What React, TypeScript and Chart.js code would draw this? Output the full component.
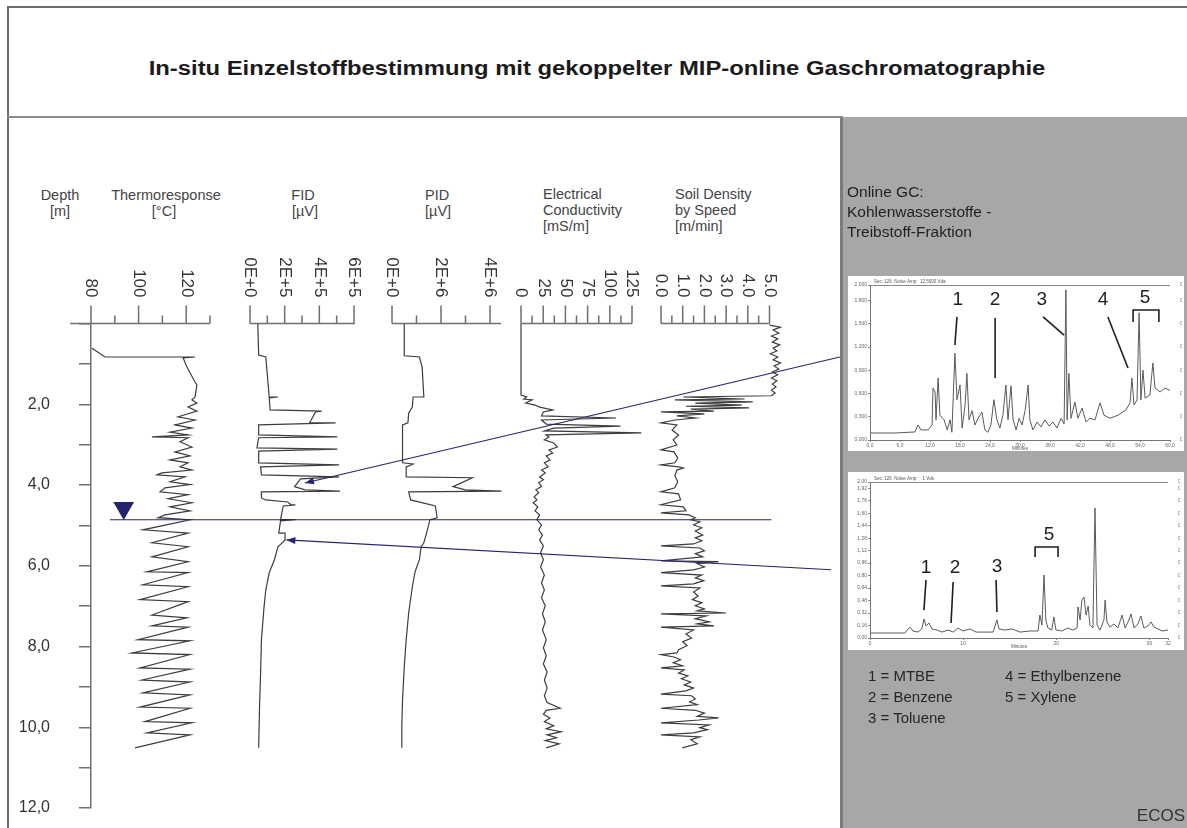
import React, { useEffect, useRef } from 'react';
import { Chart, registerables } from 'chart.js';
Chart.register(...registerables);

const FONT = '"Liberation Sans", Arial, Helvetica, sans-serif';
const INK = '#333333';
const TRACE = '#3d3d3d';
const AXIS = '#6f6f6f';
const NAVY = '#25256f';

// ---------------- data (depth [m], value) ----------------
const THERMO_PROFILE: number[][] = [
  [0.61, 80.4], [0.83, 85.9], [0.83, 123.7], [0.85, 118.7], [1.08, 120.3], [1.45, 123.7], [1.52, 124.5],
  [1.82, 123.7], [1.89, 122.4], [1.97, 124.5], [2.07, 120.8], [2.17, 124.5], [2.31, 116.6], [2.39, 123.7],
  [2.51, 115.3], [2.59, 122.4], [2.69, 113.2], [2.76, 120.8], [2.81, 105.6], [2.83, 120.8], [2.93, 117.4],
  [3.06, 122.4], [3.18, 115.3], [3.28, 121.6], [3.38, 113.2], [3.45, 120.8], [3.55, 117.4], [3.63, 122.4],
  [3.70, 109.8], [3.75, 107.7], [3.80, 119.5], [3.92, 113.2], [3.99, 121.6], [4.07, 111.1], [4.17, 109.0],
  [4.24, 120.8], [4.34, 112.4], [4.44, 122.4], [4.54, 113.2], [4.64, 121.6], [4.74, 111.1], [4.81, 108.2],
  [4.86, 121.6], [5.11, 101.8], [5.19, 120.8], [5.43, 105.6], [5.53, 120.8], [5.78, 105.6], [5.90, 120.8],
  [6.15, 103.5], [6.17, 120.8], [6.47, 101.8], [6.52, 120.8], [6.84, 100.6], [6.89, 120.8], [7.22, 105.6],
  [7.29, 120.3], [7.49, 105.6], [7.52, 120.8], [7.83, 99.7], [7.86, 121.6], [8.16, 97.2], [8.20, 121.6],
  [8.53, 100.6], [8.56, 121.6], [8.83, 101.4], [8.88, 121.6], [9.15, 101.8], [9.20, 121.6], [9.50, 100.6],
  [9.53, 121.6], [9.86, 102.7], [9.89, 122.4], [10.14, 103.5], [10.19, 121.6], [10.51, 98.5],
];

const FID_PROFILE: number[][] = [
  [0, 45000], [0.78, 50000], [0.83, 91000], [1.82, 111000], [1.82, 161000], [1.84, 111000], [2.14, 116000],
  [2.17, 413000], [2.19, 378000], [2.39, 353000], [2.46, 343000], [2.46, 494000], [2.51, 50000], [2.76, 50000],
  [2.81, 504000], [2.83, 50000], [3.08, 40000], [3.11, 504000], [3.16, 50000], [3.45, 50000], [3.50, 514000],
  [3.55, 61000], [3.75, 66000], [3.80, 514000], [3.85, 292000], [4.04, 257000], [4.12, 318000], [4.15, 519000],
  [4.17, 66000], [4.32, 66000], [4.37, 91000], [4.42, 217000], [4.49, 237000], [4.49, 262000], [4.52, 192000],
  [4.86, 176000], [4.86, 262000], [4.89, 176000], [5.19, 166000], [5.19, 202000], [5.36, 202000], [5.41, 192000],
  [5.53, 161000], [5.85, 141000], [6.17, 111000], [6.60, 91000], [7.02, 81000], [7.83, 66000], [8.66, 61000],
  [9.50, 55000], [10.51, 50000],
];

const PID_PROFILE: number[][] = [
  [0, 500000], [0.80, 500000], [0.83, 1120000], [1.08, 1230000], [1.82, 1300000], [1.82, 860000], [2.07, 830000],
  [2.22, 680000], [2.46, 650000], [2.51, 430000], [3.45, 430000], [3.48, 860000], [3.55, 580000], [3.80, 580000],
  [3.82, 3280000], [4.04, 2490000], [4.12, 2990000], [4.15, 4470000], [4.17, 680000], [4.37, 760000],
  [4.52, 1770000], [4.81, 1840000], [4.86, 1550000], [5.19, 1410000], [5.43, 1300000], [5.53, 1190000],
  [5.85, 1120000], [6.15, 940000], [6.52, 830000], [7.17, 680000], [7.83, 580000], [8.50, 500000],
  [9.32, 430000], [9.99, 400000], [10.51, 400000],
];

const EC_PROFILE: number[][] = [
  [0, 0], [1.77, 0], [1.82, 6.3], [1.87, 3.2], [1.89, 12.6], [1.97, 5.3], [2.02, 15.8], [2.07, 21], [2.14, 35.7],
  [2.19, 25.2], [2.29, 23.1], [2.34, 107], [2.39, 23.1], [2.49, 28.4], [2.54, 112], [2.59, 36.8], [2.66, 26.3],
  [2.71, 135.5], [2.76, 28.4], [2.81, 31.5], [2.88, 26.3], [2.96, 36.8], [3.06, 41], [3.13, 31.5], [3.21, 35.7],
  [3.28, 28.4], [3.38, 32.6], [3.45, 26.3], [3.55, 30.5], [3.63, 23.1], [3.70, 27.3], [3.80, 21], [3.87, 25.2],
  [3.94, 20], [4.04, 23.1], [4.12, 16.8], [4.19, 20], [4.29, 14.7], [4.37, 17.9], [4.44, 13.7], [4.54, 18.9],
  [4.64, 15.8], [4.74, 21], [4.86, 17.9], [4.99, 23.1], [5.11, 20], [5.24, 24.2], [5.36, 21], [5.51, 25.2],
  [5.68, 22], [5.85, 25.2], [6.03, 22], [6.23, 26.3], [6.42, 23.1], [6.60, 26.3], [6.79, 23.1], [6.99, 27.3],
  [7.19, 24.2], [7.39, 27.3], [7.59, 24.2], [7.83, 28.4], [8.03, 25.2], [8.23, 28.4], [8.43, 25.2], [8.63, 29.4],
  [8.83, 26.3], [9.03, 29.4], [9.22, 26.3], [9.39, 29.4], [9.53, 44.1], [9.58, 28.4], [9.68, 25.2], [9.77, 32.6],
  [9.86, 26.3], [9.96, 36.8], [10.04, 28.4], [10.11, 45.2], [10.19, 29.4], [10.26, 40], [10.33, 27.3],
  [10.41, 43], [10.51, 28.4],
];

const SOIL_PROFILE: number[][] = [
  [0.04, 5.0], [0.09, 5.5], [0.16, 5.17], [0.24, 5.43], [0.31, 5.09], [0.38, 5.38], [0.46, 5.13], [0.53, 5.47],
  [0.61, 5.17], [0.68, 5.34], [0.75, 5.04], [0.83, 5.38], [0.90, 5.17], [0.98, 5.51], [1.05, 5.21], [1.13, 5.43],
  [1.20, 5.13], [1.27, 5.38], [1.35, 5.09], [1.42, 5.34], [1.50, 5.13], [1.57, 5.30], [1.65, 5.09], [1.72, 5.26],
  [1.79, 5.09], [1.82, 1.03], [1.87, 3.85], [1.89, 0.64], [1.94, 4.23], [1.97, 1.58], [2.02, 3.72], [2.05, 1.15],
  [2.09, 4.06], [2.12, 1.37], [2.17, 2.44], [2.19, 0], [2.24, 2.0], [2.29, 0.73], [2.34, 1.58], [2.39, 0.64],
  [2.46, 0], [2.51, 0.73], [2.64, 0.51], [2.76, 0.81], [2.88, 0.56], [3.01, 0.73], [3.13, 0], [3.18, 0.6],
  [3.33, 0.77], [3.45, 0.64], [3.50, 0], [3.55, 0.81], [3.58, 1.03], [3.63, 0.73], [3.77, 0.64], [3.92, 0.77],
  [4.07, 0.64], [4.17, 0], [4.22, 0.81], [4.37, 0.90], [4.49, 0], [4.54, 1.03], [4.64, 1.15], [4.69, 0],
  [4.74, 1.28], [4.81, 1.58], [4.86, 1.37], [4.91, 1.79], [4.99, 1.50], [5.06, 1.88], [5.14, 1.58], [5.24, 1.92],
  [5.31, 1.58], [5.38, 1.88], [5.46, 1.50], [5.51, 0], [5.56, 1.79], [5.63, 2.0], [5.70, 1.58], [5.78, 1.92],
  [5.88, 0], [5.90, 2.65], [5.95, 1.67], [6.03, 2.0], [6.10, 1.50], [6.17, 0], [6.23, 1.88], [6.30, 1.58],
  [6.37, 1.97], [6.45, 1.50], [6.50, 0], [6.55, 1.79], [6.65, 1.50], [6.75, 1.71], [6.84, 1.45], [6.92, 1.88],
  [6.99, 1.58], [7.07, 2.0], [7.12, 1.67], [7.17, 2.99], [7.19, 0], [7.24, 2.09], [7.31, 1.58], [7.39, 2.22],
  [7.44, 1.67], [7.49, 2.44], [7.52, 0], [7.59, 1.50], [7.69, 1.15], [7.79, 1.41], [7.88, 1.0], [7.98, 1.20],
  [8.08, 0.81], [8.16, 0.73], [8.20, 0], [8.26, 0.60], [8.33, 0.90], [8.40, 0.56], [8.48, 1.0], [8.53, 0],
  [8.58, 1.07], [8.66, 0.81], [8.73, 1.24], [8.80, 0.94], [8.88, 1.37], [8.95, 1.07], [9.03, 1.50], [9.10, 1.15],
  [9.18, 0], [9.22, 1.41], [9.30, 1.58], [9.37, 1.32], [9.44, 1.67], [9.53, 0], [9.58, 1.58], [9.65, 2.0],
  [9.73, 1.67], [9.77, 2.65], [9.82, 1.75], [9.89, 0], [9.94, 2.22], [10.01, 1.79], [10.06, 2.14], [10.14, 1.50],
  [10.19, 0], [10.24, 1.79], [10.31, 1.37], [10.41, 1.67], [10.51, 0.98],
];

// axis ticks
const THERMO_TICKS = [80, 100, 120];
const THERMO_TICK_LABELS = ['80', '100', '120'];
const THERMO_MINOR = [90, 110, 130];
const FID_TICKS = [0, 200000, 400000, 600000];
const FID_TICK_LABELS = ['0E+0', '2E+5', '4E+5', '6E+5'];
const FID_MINOR = [100000, 300000, 500000];
const PID_TICKS = [0, 2000000, 4000000];
const PID_TICK_LABELS = ['0E+0', '2E+6', '4E+6'];
const PID_MINOR = [1000000, 3000000];
const EC_TICKS = [0, 25, 50, 75, 100, 125];
const EC_TICK_LABELS = ['0', '25', '50', '75', '100', '125'];
const EC_MINOR = [12.5, 37.5, 62.5, 87.5, 112.5];
const SOIL_TICKS = [0, 1, 2, 3, 4, 5];
const SOIL_TICK_LABELS = ['0.0', '1.0', '2.0', '3.0', '4.0', '5.0'];
const SOIL_MINOR = [0.5, 1.5, 2.5, 3.5, 4.5];

// annotations (depth-based)
const WATER_TABLE_DEPTH = 4.86;
const WATER_MARK_DEPTH = 4.57;
const ARROW_UPPER = [[845, 0.83], [299, 3.95]];
const ARROW_LOWER = [[836, 6.1], [280, 5.36]];

// chromatograms (retention %, signal %)
const GC_UPPER: number[][] = [
  [0, 4.5], [8.3, 4.5], [15, 5.2], [16, 9.7], [17, 6.5], [19.3, 6.5], [20.7, 9.7], [21, 33.5], [21.7, 31], [22, 13],
  [22.7, 40], [23.3, 16], [24.7, 13], [25.7, 6.5], [26.7, 13], [27.3, 5], [28.3, 56], [29, 26], [30, 35.5],
  [30.7, 7.7], [31.7, 22.6], [32.3, 43], [33, 13], [34, 19], [35, 9.7], [36, 14], [37.3, 18], [38.3, 6.5],
  [39.3, 5], [40.3, 9.7], [41.3, 26], [42.3, 13], [43.3, 7.7], [44.3, 16], [45.3, 35.5], [46, 13], [47, 35],
  [47.7, 13], [48.7, 6.5], [49.7, 14], [50.7, 9.7], [51.7, 19], [52.7, 35.5], [53.3, 13], [54.3, 6.5], [55.7, 11.6],
  [57, 8.4], [58.3, 13], [59.7, 9], [61, 11.6], [62.3, 7.7], [63.7, 14], [64.7, 10.3], [65.3, 96.8], [65.7, 13],
  [66.3, 43], [67, 14], [68.3, 24.5], [69.3, 14], [70.7, 20.6], [72, 11.6], [73.3, 14], [75, 13], [76.7, 24],
  [78, 16], [80, 14], [82.7, 16], [85.3, 19.4], [86.7, 24], [87.3, 40], [88, 22.6], [89, 25.8], [89.7, 82],
  [90.3, 26], [91, 45], [91.7, 27], [93.3, 29], [94.3, 49.7], [95, 33.5], [96.7, 31], [98.3, 33.5], [100, 32],
];
const GC_LOWER: number[][] = [
  [0, 3.2], [11.7, 3.2], [12.8, 5.8], [13.4, 7], [14.4, 4.5], [16.1, 3.8], [17.4, 5.8], [18.1, 12.2], [18.8, 7.7],
  [19.8, 9.6], [20.8, 5.8], [22.5, 5.1], [24.2, 3.8], [26.2, 5.1], [27.9, 3.8], [29.5, 6.4], [31.2, 4.5],
  [33.6, 5.8], [35.6, 3.8], [38.6, 3.8], [41.3, 3.8], [42.6, 11.5], [43.3, 5.8], [45.3, 5.1], [47.7, 5.8],
  [50.3, 3.8], [53.7, 4.5], [56.4, 4.5], [57, 14.7], [57.7, 8.3], [58.4, 40.4], [59, 11.5], [59.7, 6.4], [61, 5.1],
  [61.7, 13.5], [62.4, 5.1], [64.4, 4.5], [66.4, 6.4], [68.1, 5.1], [69.5, 6.4], [69.8, 19.9], [70.5, 11.5],
  [71.1, 24.4], [71.8, 26.3], [72.5, 14.7], [73.2, 20.5], [73.8, 8.3], [74.8, 6.4], [75.5, 83.3], [76.2, 8.3],
  [77.2, 5.1], [78.5, 11.5], [78.9, 24.4], [79.5, 10.3], [80.5, 7], [81.9, 9], [83.2, 6.4], [84.6, 14.7],
  [85.6, 6.4], [86.6, 10.3], [87.6, 15.4], [88.6, 6.4], [89.9, 9], [90.9, 14.1], [91.9, 6.4], [93.3, 7.7],
  [94.3, 10.3], [95.3, 7], [96.6, 5.8], [98, 4.5], [100, 5.1],
];
const GC_UPPER_PEAK_LABELS = [
  { t: '1', x: 29.3, y: 90.3 }, { t: '2', x: 41.7, y: 90.3 }, { t: '3', x: 57.3, y: 90.3 },
  { t: '4', x: 77.7, y: 90.3 }, { t: '5', x: 91.7, y: 91.5 },
];
const GC_UPPER_LEADERS = [[29.0, 79.4, 28.3, 61.3], [41.7, 78.7, 41.7, 40], [57.7, 79.4, 64.7, 67.7], [79.3, 79.4, 86, 46.5]];
const GC_UPPER_BRACKETS = [[87.7, 76.1, 87.7, 83.9, 96.3, 83.9, 96.3, 76.1]];
const GC_LOWER_PEAK_LABELS = [
  { t: '1', x: 18.8, y: 44.9 }, { t: '2', x: 28.5, y: 44.9 }, { t: '3', x: 42.6, y: 45.5 }, { t: '5', x: 60.1, y: 66 },
];
const GC_LOWER_LEADERS = [[18.8, 37.2, 18.1, 17.9], [27.9, 35.9, 27.2, 9.6], [42.3, 37.2, 42.6, 16.7]];
const GC_LOWER_BRACKETS = [[55.4, 51.9, 55.4, 58.3, 63.1, 58.3, 63.1, 51.9]];

// ---------------- layout ----------------
const CANVAS_TOP = 240;
const CANVAS_BOTTOM = 880; // extends past the page bottom so the depth labels never squeeze the plot
const DEPTH_TOP = 323.5;
const DEPTH_BOTTOM = 808;

type TrackCfg = {
  left: number; right: number; axisLeft: number; axisRight: number;
  xMin: number; xMax: number; lineFrom: number; lineTo: number;
  data: number[][]; ticks: number[]; labels: string[]; minor: number[]; depthAxis?: boolean;
};

function Track({ cfg }: { cfg: TrackCfg }) {
  const ref = useRef<HTMLCanvasElement>(null);
  const w = cfg.right - cfg.left;
  const h = CANVAS_BOTTOM - CANVAS_TOP;
  useEffect(() => {
    const topAxis = {
      id: 'topAxis',
      afterDraw(chart: any) {
        const ctx = chart.ctx;
        const xs = chart.scales.x;
        const top = Math.round(chart.chartArea.top) - 0.5;
        ctx.save();
        ctx.strokeStyle = AXIS;
        ctx.lineWidth = 1.5;
        ctx.beginPath();
        ctx.moveTo(xs.getPixelForValue(cfg.lineFrom), top);
        ctx.lineTo(xs.getPixelForValue(cfg.lineTo), top);
        cfg.ticks.forEach((v) => { const x = xs.getPixelForValue(v); ctx.moveTo(x, top); ctx.lineTo(x, top - 18); });
        cfg.minor.forEach((v) => { const x = xs.getPixelForValue(v); ctx.moveTo(x, top); ctx.lineTo(x, top - 8); });
        ctx.stroke();
        ctx.fillStyle = INK;
        ctx.font = `17px ${FONT}`;
        ctx.textAlign = 'right';
        ctx.textBaseline = 'middle';
        cfg.ticks.forEach((v, i) => {
          const x = xs.getPixelForValue(v);
          ctx.save();
          ctx.translate(x, top - 26);
          ctx.rotate(Math.PI / 2);
          ctx.fillText(cfg.labels[i], 0, 0);
          ctx.restore();
        });
        ctx.restore();
      },
    };
    const chart = new Chart(ref.current as HTMLCanvasElement, {
      type: 'scatter',
      data: {
        datasets: [{
          data: cfg.data.map(([d, v]) => ({ x: v, y: d })),
          showLine: true, borderColor: TRACE, borderWidth: 1.2, pointRadius: 0, tension: 0, clip: false as any,
        } as any],
      },
      options: {
        responsive: false, animation: false, devicePixelRatio: 1, events: [],
        layout: {
          padding: {
            left: cfg.depthAxis ? 0 : cfg.axisLeft - cfg.left,
            right: cfg.right - cfg.axisRight,
            top: DEPTH_TOP - CANVAS_TOP,
            bottom: CANVAS_BOTTOM - DEPTH_BOTTOM,
          },
        },
        plugins: { legend: { display: false }, tooltip: { enabled: false } },
        scales: {
          x: { type: 'linear', display: false, min: cfg.xMin, max: cfg.xMax },
          y: {
            type: 'linear', reverse: true, min: 0, max: 12, display: !!cfg.depthAxis,
            afterFit: (s: any) => { s.width = cfg.axisLeft - cfg.left; },
            ticks: {
              stepSize: 1, autoSkip: false, padding: 29, color: INK, font: { family: FONT, size: 16 },
              callback: (v: any) => (v > 0 && v % 2 === 0 ? `${v},0` : ''),
            },
            grid: { drawOnChartArea: false, drawTicks: true, tickLength: 12, color: AXIS, lineWidth: 1.5 },
            border: { display: true, color: AXIS, width: 1.5 },
          },
        },
      } as any,
      plugins: [topAxis],
    });
    return () => chart.destroy();
  }, []);
  return <canvas ref={ref} width={w} height={h} style={{ position: 'absolute', left: cfg.left, top: CANVAS_TOP, width: w, height: h }} />;
}

const TRACKS: TrackCfg[] = [
  { left: 0, right: 228, axisLeft: 91, axisRight: 210, xMin: 80, xMax: 130, lineFrom: 71.2, lineTo: 130,
    data: THERMO_PROFILE, ticks: THERMO_TICKS, labels: THERMO_TICK_LABELS, minor: THERMO_MINOR, depthAxis: true },
  { left: 220, right: 372, axisLeft: 235, axisRight: 354, xMin: 0, xMax: 600000, lineFrom: 0, lineTo: 605000,
    data: FID_PROFILE, ticks: FID_TICKS, labels: FID_TICK_LABELS, minor: FID_MINOR },
  { left: 366, right: 510, axisLeft: 379, axisRight: 490, xMin: 0, xMax: 4000000, lineFrom: 0, lineTo: 4450000,
    data: PID_PROFILE, ticks: PID_TICKS, labels: PID_TICK_LABELS, minor: PID_MINOR },
  { left: 505, right: 650, axisLeft: 513, axisRight: 632, xMin: 0, xMax: 125, lineFrom: 0, lineTo: 125,
    data: EC_PROFILE, ticks: EC_TICKS, labels: EC_TICK_LABELS, minor: EC_MINOR },
  { left: 644, right: 800, axisLeft: 652.5, axisRight: 769.5, xMin: 0, xMax: 5, lineFrom: 0, lineTo: 5,
    data: SOIL_PROFILE, ticks: SOIL_TICKS, labels: SOIL_TICK_LABELS, minor: SOIL_MINOR },
];

function Overlay() {
  const ref = useRef<HTMLCanvasElement>(null);
  useEffect(() => {
    const arrowHeads = {
      id: 'arrowHeads',
      afterDatasetsDraw(chart: any) {
        const ctx = chart.ctx;
        chart.data.datasets.forEach((ds: any, i: number) => {
          if (!ds.arrow) return;
          const pts = chart.getDatasetMeta(i).data;
          const a = pts[pts.length - 2];
          const b = pts[pts.length - 1];
          const ang = Math.atan2(b.y - a.y, b.x - a.x);
          ctx.save();
          ctx.translate(b.x, b.y);
          ctx.rotate(ang);
          ctx.beginPath();
          ctx.moveTo(0, 0);
          ctx.lineTo(-9, -3.5);
          ctx.lineTo(-9, 3.5);
          ctx.closePath();
          ctx.fillStyle = NAVY;
          ctx.fill();
          ctx.restore();
        });
      },
    };
    const line = (pts: number[][], arrow: boolean) => ({
      data: pts.map(([x, d]) => ({ x, y: d })), showLine: true, borderColor: NAVY, borderWidth: 1.1,
      pointRadius: 0, clip: false, arrow,
    });
    const chart = new Chart(ref.current as HTMLCanvasElement, {
      type: 'scatter',
      data: {
        datasets: [
          line([[100, WATER_TABLE_DEPTH], [775, WATER_TABLE_DEPTH]], false),
          line(ARROW_UPPER, true),
          line(ARROW_LOWER, true),
          {
            data: [{ x: 114, y: WATER_MARK_DEPTH }], showLine: false, pointStyle: 'triangle', pointRotation: 180,
            pointRadius: 12, pointBackgroundColor: NAVY, pointBorderColor: NAVY, pointBorderWidth: 0, clip: false,
          },
        ] as any,
      },
      options: {
        responsive: false, animation: false, devicePixelRatio: 1, events: [],
        layout: { padding: { left: 0, right: 0, top: DEPTH_TOP, bottom: 828 - DEPTH_BOTTOM } },
        plugins: { legend: { display: false }, tooltip: { enabled: false } },
        scales: {
          x: { type: 'linear', display: false, min: 0, max: 1187 },
          y: { type: 'linear', display: false, reverse: true, min: 0, max: 12 },
        },
      } as any,
      plugins: [arrowHeads],
    });
    return () => chart.destroy();
  }, []);
  return <canvas ref={ref} width={1187} height={828} style={{ position: 'absolute', left: 0, top: 0, width: 1187, height: 828, pointerEvents: 'none' }} />;
}

type GCCfg = {
  left: number; top: number; width: number; height: number;
  pad: { left: number; right: number; top: number; bottom: number }; yW: number; y2W: number; xH: number;
  data: number[][]; yStep: number; xStep: number; header: string;
  labels: { t: string; x: number; y: number }[]; leaders: number[][]; brackets: number[][];
  yFmt: (v: number) => string; y2Fmt: (v: number) => string; xFmt: (v: number) => string;
};

function GC({ cfg }: { cfg: GCCfg }) {
  const ref = useRef<HTMLCanvasElement>(null);
  useEffect(() => {
    const deco = {
      id: 'gcDeco',
      afterDraw(chart: any) {
        const ctx = chart.ctx;
        const { left, right, top, bottom } = chart.chartArea;
        const xs = chart.scales.x;
        const ys = chart.scales.y;
        ctx.save();
        ctx.strokeStyle = '#888';
        ctx.lineWidth = 1;
        ctx.beginPath();
        ctx.moveTo(left, top + 0.5);
        ctx.lineTo(right, top + 0.5);
        ctx.stroke();
        ctx.fillStyle = '#555';
        ctx.font = `4.5px ${FONT}`;
        ctx.textAlign = 'left';
        ctx.textBaseline = 'bottom';
        ctx.fillText(cfg.header, left + 4, top - 1);
        ctx.textAlign = 'center';
        ctx.textBaseline = 'top';
        ctx.fillText('Minutes', (left + right) / 2, bottom + 7);
        ctx.strokeStyle = '#1e1e1e';
        ctx.lineWidth = 1.6;
        cfg.leaders.forEach(([x1, y1, x2, y2]) => {
          ctx.beginPath();
          ctx.moveTo(xs.getPixelForValue(x1), ys.getPixelForValue(y1));
          ctx.lineTo(xs.getPixelForValue(x2), ys.getPixelForValue(y2));
          ctx.stroke();
        });
        cfg.brackets.forEach((b) => {
          ctx.beginPath();
          for (let i = 0; i < b.length; i += 2) {
            const px = xs.getPixelForValue(b[i]);
            const py = ys.getPixelForValue(b[i + 1]);
            if (i === 0) ctx.moveTo(px, py); else ctx.lineTo(px, py);
          }
          ctx.stroke();
        });
        ctx.fillStyle = '#1e1e1e';
        ctx.font = `19px ${FONT}`;
        ctx.textAlign = 'center';
        ctx.textBaseline = 'middle';
        cfg.labels.forEach((l) => ctx.fillText(l.t, xs.getPixelForValue(l.x), ys.getPixelForValue(l.y)));
        ctx.restore();
      },
    };
    const tickFont = { family: FONT, size: 5 };
    const chart = new Chart(ref.current as HTMLCanvasElement, {
      type: 'scatter',
      data: {
        datasets: [{
          data: cfg.data.map(([x, y]) => ({ x, y })), showLine: true, borderColor: '#5a5a5a', borderWidth: 1,
          pointRadius: 0, tension: 0,
        } as any],
      },
      options: {
        responsive: false, animation: false, devicePixelRatio: 1, events: [],
        layout: { padding: cfg.pad },
        plugins: { legend: { display: false }, tooltip: { enabled: false } },
        scales: {
          x: {
            type: 'linear', min: 0, max: 100, afterFit: (s: any) => { s.height = cfg.xH; },
            ticks: { stepSize: cfg.xStep, color: '#666', font: tickFont, padding: 1, maxRotation: 0, autoSkip: false,
              callback: (v: any) => cfg.xFmt(v) },
            grid: { drawOnChartArea: false, drawTicks: true, tickLength: 2, color: '#888' },
            border: { display: true, color: '#777', width: 1 },
          },
          y: {
            type: 'linear', position: 'left', min: 0, max: 100, afterFit: (s: any) => { s.width = cfg.yW; },
            ticks: { stepSize: cfg.yStep, color: '#666', font: tickFont, padding: 1, autoSkip: false,
              callback: (v: any) => cfg.yFmt(v) },
            grid: { drawOnChartArea: false, drawTicks: true, tickLength: 2, color: '#888' },
            border: { display: true, color: '#777', width: 1 },
          },
          y2: {
            type: 'linear', position: 'right', min: 0, max: 100, afterFit: (s: any) => { s.width = cfg.y2W; },
            ticks: { stepSize: cfg.yStep, color: '#666', font: tickFont, padding: 2, autoSkip: false,
              callback: (v: any) => cfg.y2Fmt(v) },
            grid: { display: false },
            border: { display: false },
          },
        },
      } as any,
      plugins: [deco],
    });
    return () => chart.destroy();
  }, []);
  return (
    <div style={{ position: 'absolute', left: cfg.left, top: cfg.top, width: cfg.width, height: cfg.height, background: '#fff' }}>
      <canvas ref={ref} width={cfg.width} height={cfg.height} style={{ display: 'block', width: cfg.width, height: cfg.height }} />
    </div>
  );
}

const comma = (v: number, d: number) => v.toFixed(d).replace('.', ',');

const GC_INSETS: GCCfg[] = [
  {
    left: 848, top: 276, width: 336, height: 175, pad: { left: 4, right: 2, top: 9, bottom: 2 }, yW: 18, y2W: 12, xH: 9,
    data: GC_UPPER, yStep: 15, xStep: 10, header: 'Sec: 126  Noise Amp:  12.5000 Vda',
    labels: GC_UPPER_PEAK_LABELS, leaders: GC_UPPER_LEADERS, brackets: GC_UPPER_BRACKETS,
    yFmt: (v) => comma(v * 0.02, 3), y2Fmt: (v) => comma(v * 0.002, 2), xFmt: (v) => comma(v * 0.6, 1),
  },
  {
    left: 848, top: 472, width: 336, height: 178, pad: { left: 4, right: 4, top: 10, bottom: 2 }, yW: 18, y2W: 12, xH: 10,
    data: GC_LOWER, yStep: 8, xStep: 31.25, header: 'Sec: 126  Noise Amp:    1 Vds',
    labels: GC_LOWER_PEAK_LABELS, leaders: GC_LOWER_LEADERS, brackets: GC_LOWER_BRACKETS,
    yFmt: (v) => comma(v * 0.02, 2), y2Fmt: (v) => comma(v * 0.004, 2), xFmt: (v) => comma(v * 0.32, 0),
  },
];

function Txt(props: { x: number; y: number; size: number; align?: 'left' | 'center' | 'right'; color?: string; bold?: boolean; sx?: number; children: any }) {
  const { x, y, size, align = 'left', color = '#444', bold = false, sx = 1 } = props;
  const lh = Math.round(size * 1.25);
  const shift = align === 'center' ? '-50%' : align === 'right' ? '-100%' : '0';
  return (
    <div style={{
      position: 'absolute', left: x, top: y - lh / 2, lineHeight: `${lh}px`, fontSize: size, color,
      fontWeight: bold ? 'bold' : 'normal', whiteSpace: 'nowrap', fontFamily: FONT,
      transform: `translateX(${shift}) scaleX(${sx})`, transformOrigin: align === 'center' ? 'center' : align === 'right' ? 'right' : 'left',
    }}>{props.children}</div>
  );
}

export default function App() {
  return (
    <div style={{ position: 'absolute', left: 0, top: 0, width: 1187, height: 828, overflow: 'hidden', background: '#fff', fontFamily: FONT }}>
      <div style={{ position: 'absolute', left: 840, top: 117, width: 347, height: 711, background: '#a7a7a7', borderLeft: '3px solid #7c7c7c', boxSizing: 'border-box' }} />
      <div style={{ position: 'absolute', left: 7, top: 6, width: 1180, height: 2, background: '#6e6e6e' }} />
      <div style={{ position: 'absolute', left: 7, top: 6, width: 2, height: 822, background: '#6e6e6e' }} />
      <div style={{ position: 'absolute', left: 7, top: 116, width: 836, height: 2, background: '#8a8a8a' }} />

      <Txt x={597} y={68} size={20} bold align="center" color="#1b1b1b" sx={1.19}>In-situ Einzelstoffbestimmung mit gekoppelter MIP-online Gaschromatographie</Txt>

      <Txt x={60} y={195} size={14.5} align="center">Depth</Txt>
      <Txt x={60} y={211} size={14.5} align="center">[m]</Txt>
      <Txt x={166} y={195} size={14.5} align="center">Thermoresponse</Txt>
      <Txt x={164} y={211} size={14.5} align="center">[°C]</Txt>
      <Txt x={303} y={195} size={14.5} align="center">FID</Txt>
      <Txt x={305} y={211} size={14.5} align="center">[µV]</Txt>
      <Txt x={425} y={195} size={14.5}>PID</Txt>
      <Txt x={425} y={211} size={14.5}>[µV]</Txt>
      <Txt x={543} y={194} size={14.5}>Electrical</Txt>
      <Txt x={543} y={210} size={14.5}>Conductivity</Txt>
      <Txt x={543} y={226} size={14.5}>[mS/m]</Txt>
      <Txt x={675} y={194} size={14.5}>Soil Density</Txt>
      <Txt x={675} y={210} size={14.5}>by Speed</Txt>
      <Txt x={675} y={226} size={14.5}>[m/min]</Txt>

      {TRACKS.map((t, i) => <Track key={i} cfg={t} />)}
      {GC_INSETS.map((g, i) => <GC key={i} cfg={g} />)}
      <Overlay />

      <Txt x={847} y={191} size={15.5} color="#1f1f1f">Online GC:</Txt>
      <Txt x={847} y={211} size={15.5} color="#1f1f1f">Kohlenwasserstoffe -</Txt>
      <Txt x={847} y={231} size={15.5} color="#1f1f1f">Treibstoff-Fraktion</Txt>

      <Txt x={868} y={675} size={15} color="#262626">1 = MTBE</Txt>
      <Txt x={868} y={696} size={15} color="#262626">2 = Benzene</Txt>
      <Txt x={868} y={717} size={15} color="#262626">3 = Toluene</Txt>
      <Txt x={1005} y={675} size={15} color="#262626">4 = Ethylbenzene</Txt>
      <Txt x={1005} y={696} size={15} color="#262626">5 = Xylene</Txt>
      <Txt x={1185} y={815} size={17} align="right" color="#333">ECOS</Txt>
    </div>
  );
}
